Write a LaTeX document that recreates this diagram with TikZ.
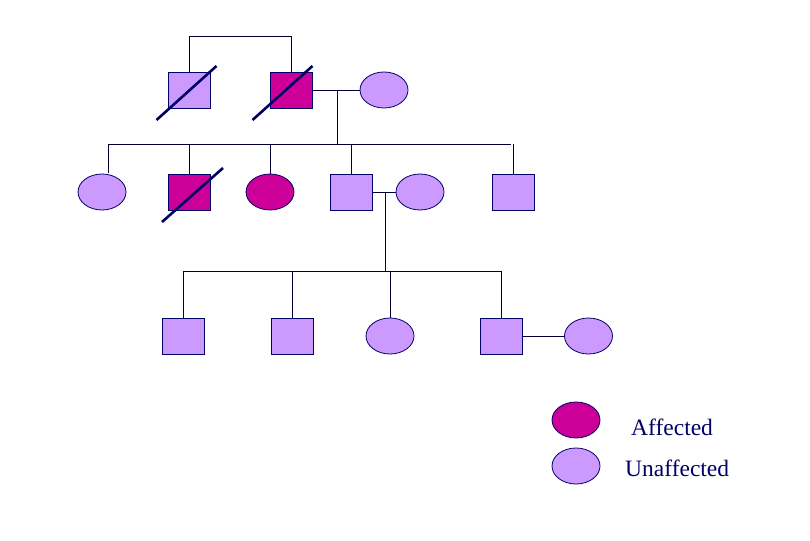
\documentclass[tikz,border=0pt]{standalone}
\usepackage{fontspec}
\setmainfont{Liberation Serif}
\usetikzlibrary{shapes.geometric}
\definecolor{lightp}{HTML}{CC99FF}
\definecolor{magen}{HTML}{CC0099}
\definecolor{navy}{HTML}{000066}
\tikzset{
  sq/.style={rectangle, draw=navy, line width=0.8pt, minimum width=42pt, minimum height=36pt, inner sep=0pt, fill=lightp},
  el/.style={ellipse, draw=navy, line width=0.8pt, minimum width=48pt, minimum height=36pt, inner sep=0pt, fill=lightp},
  aff/.style={fill=magen},
  ln/.style={draw=navy!50!black, line width=0.8pt},
  slash/.style={draw=navy, line width=2.6pt},
  lbl/.style={font=\fontsize{23.5}{26}\selectfont, text=navy, anchor=west, inner sep=0pt}
}
\begin{document}
\begin{tikzpicture}[x=1pt,y=-1pt]
\useasboundingbox (0,0) rectangle (810,540);
% Generation I
\node[sq] (g1a) at (189.5,90) {};
\node[sq,aff] (g1b) at (291.5,90) {};
\node[el] (g1c) at (384,90) {};
\draw[ln] (g1a.north) -- ++(0,-35) -| (g1b.north);
\draw[ln] (g1b.east) -- (g1c.west);
\coordinate (m1) at (337,90);
\coordinate (sib2) at (108,144);
\coordinate (sib2e) at (511,144);
\draw[ln] (m1) -- (m1 |- sib2);
\draw[ln] (sib2) -- (sib2e);
% Generation II
\node[el] (g2a) at (102,192) {};
\node[sq,aff] (g2b) at (189,192) {};
\node[el,aff] (g2c) at (270,192) {};
\node[sq] (g2d) at (351.5,192) {};
\node[el] (g2e) at (420,192) {};
\node[sq] (g2f) at (513.5,192) {};
\draw[ln] (sib2) -- ([xshift=6pt,yshift=0.6pt]g2a.north);
\foreach \n in {g2b,g2c,g2d,g2f} \draw[ln] (\n.north) -- (\n.north |- sib2);
\draw[ln] (g2d.east) -- (g2e.west);
\coordinate (m2) at (385,192);
\coordinate (sib3) at (183,271);
\coordinate (sib3e) at (501.5,271);
\draw[ln] (m2) -- (m2 |- sib3);
\draw[ln] (sib3) -- (sib3e);
% Generation III
\node[sq] (g3a) at (183,336) {};
\node[sq] (g3b) at (292,336) {};
\node[el] (g3c) at (390,336) {};
\node[sq] (g3d) at (501.5,336) {};
\node[el] (g3e) at (588.5,336) {};
\foreach \n in {g3a,g3b,g3c,g3d} \draw[ln] (\n.north) -- (\n.north |- sib3);
\draw[ln] (g3d.east) -- (g3e.west);
% Deceased slashes
\draw[slash] ([shift={(-33,30)}]g1a.center) -- ([shift={(27,-24)}]g1a.center);
\draw[slash] ([shift={(-39,30)}]g1b.center) -- ([shift={(21,-24)}]g1b.center);
\draw[slash] ([shift={(-27,30)}]g2b.center) -- ([shift={(34,-24)}]g2b.center);
% Legend
\node[el,aff] (la) at (576,420) {};
\node[el] (lu) at (576,466) {};
\node[lbl] (ta) at (631,427) {Affected};
\node[lbl] (tu) at (625,468) {Unaffected};
\end{tikzpicture}
\end{document}
